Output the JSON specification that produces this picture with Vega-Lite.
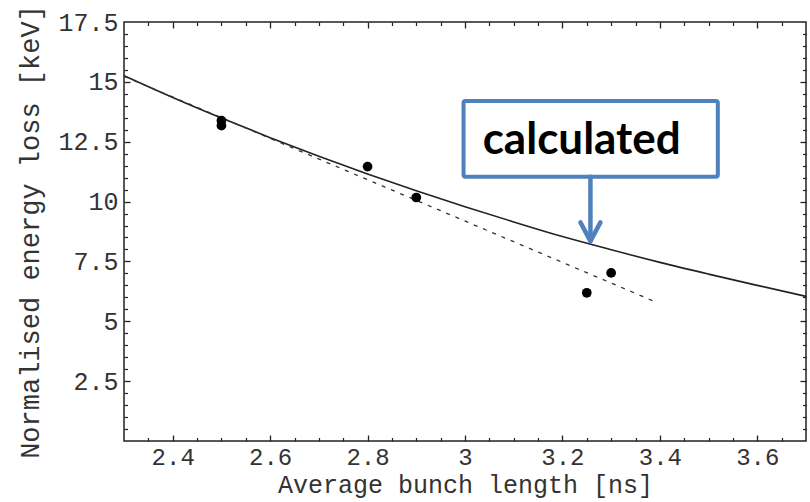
{
  "$schema": "https://vega.github.io/schema/vega-lite/v6.json",
  "width": 682,
  "height": 419,
  "autosize": {"type": "none"},
  "padding": {"left": 124, "top": 22, "right": 4, "bottom": 61},
  "background": "white",
  "config": {
    "view": {"stroke": "#222", "strokeWidth": 1.5},
    "axis": {"grid": false, "labelFont": "Liberation Mono", "titleFont": "Liberation Mono", "labelColor": "#333", "titleColor": "#333", "labelFontSize": 25, "titleFontSize": 26, "titleFontWeight": "normal", "domain": false}
  },
  "datasets": {
    "calc": [
      {"x": 2.3, "y": 15.26}, {"x": 2.4, "y": 14.35}, {"x": 2.5, "y": 13.49}, {"x": 2.6, "y": 12.67},
      {"x": 2.7, "y": 11.89}, {"x": 2.8, "y": 11.15}, {"x": 2.9, "y": 10.45}, {"x": 3.0, "y": 9.78},
      {"x": 3.1, "y": 9.15}, {"x": 3.2, "y": 8.54}, {"x": 3.3, "y": 7.99}, {"x": 3.4, "y": 7.46},
      {"x": 3.5, "y": 6.97}, {"x": 3.6, "y": 6.5}, {"x": 3.7, "y": 6.04}
    ],
    "fit": [{"x": 2.3, "y": 15.23}, {"x": 3.39, "y": 5.82}],
    "meas": [
      {"x": 2.5, "y": 13.38}, {"x": 2.5, "y": 13.17}, {"x": 2.8, "y": 11.46},
      {"x": 2.9, "y": 10.17}, {"x": 3.25, "y": 6.19}, {"x": 3.3, "y": 7.02}
    ],
    "box": [{"x1": 2.997, "x2": 3.519, "y1": 11.04, "y2": 14.2}],
    "label": [{"x": 3.2396, "y": 11.97, "text": "calculated"}],
    "arrow": [
      {"x1": 3.2575, "y1": 11.04, "x2": 3.2575, "y2": 8.4},
      {"x1": 3.237, "y1": 9.13, "x2": 3.2575, "y2": 8.35},
      {"x1": 3.278, "y1": 9.13, "x2": 3.2575, "y2": 8.35}
    ]
  },
  "resolve": {"axis": {"x": "independent", "y": "independent"}},
  "layer": [
    {
      "data": {"name": "calc"},
      "mark": {"type": "line", "color": "#222", "strokeWidth": 1.6, "interpolate": "monotone"},
      "encoding": {
        "x": {"field": "x", "type": "quantitative", "scale": {"domain": [2.3, 3.7], "nice": false, "zero": false},
          "axis": {"orient": "bottom", "values": [2.4, 2.6, 2.8, 3, 3.2, 3.4, 3.6], "labelExpr": "'' + datum.value", "labelFontSize": 24, "ticks": false, "labelPadding": 4, "title": "Average bunch length [ns]", "titleFontSize": 25, "titlePadding": 3}},
        "y": {"field": "y", "type": "quantitative", "scale": {"domain": [0, 17.5], "nice": false, "zero": false},
          "axis": {"orient": "left", "values": [2.5, 5, 7.5, 10, 12.5, 15, 17.5], "labelExpr": "'' + datum.value", "ticks": false, "labelPadding": 6, "title": "Normalised energy loss [keV]", "titleFontSize": 27, "titlePadding": 13}}
      }
    },
    {
      "data": {"name": "fit"},
      "mark": {"type": "line", "color": "#333", "strokeWidth": 1.3, "strokeDash": [4, 6]},
      "encoding": {
        "x": {"field": "x", "type": "quantitative", "axis": {"orient": "bottom", "values": [2.4, 2.6, 2.8, 3, 3.2, 3.4, 3.6], "labels": false, "ticks": true, "tickSize": -6, "tickColor": "#222", "tickWidth": 1.3, "title": null}},
        "y": {"field": "y", "type": "quantitative", "axis": {"orient": "left", "values": [2.5, 5, 7.5, 10, 12.5, 15], "labels": false, "ticks": true, "tickSize": -6, "tickColor": "#222", "tickWidth": 1.3, "title": null}}
      }
    },
    {
      "data": {"name": "meas"},
      "mark": {"type": "circle", "color": "#000", "opacity": 1, "size": 95},
      "encoding": {
        "x": {"field": "x", "type": "quantitative", "axis": {"orient": "bottom", "values": [2.35, 2.45, 2.5, 2.55, 2.65, 2.7, 2.75, 2.85, 2.9, 2.95, 3.05, 3.1, 3.15, 3.25, 3.3, 3.35, 3.45, 3.5, 3.55, 3.65], "labels": false, "ticks": true, "tickSize": -3.5, "tickColor": "#222", "tickWidth": 1.2, "title": null}},
        "y": {"field": "y", "type": "quantitative", "axis": {"orient": "left", "values": [0.5, 1, 1.5, 2, 3, 3.5, 4, 4.5, 5.5, 6, 6.5, 7, 8, 8.5, 9, 9.5, 10.5, 11, 11.5, 12, 13, 13.5, 14, 14.5, 15.5, 16, 16.5, 17], "labels": false, "ticks": true, "tickSize": -3.5, "tickColor": "#222", "tickWidth": 1.2, "title": null}}
      }
    },
    {
      "data": {"name": "box"},
      "mark": {"type": "rect", "fill": "white", "stroke": "#4F81BD", "strokeWidth": 4, "cornerRadius": 2},
      "encoding": {
        "x": {"field": "x1", "type": "quantitative", "axis": {"orient": "top", "values": [2.4, 2.6, 2.8, 3, 3.2, 3.4, 3.6], "labels": false, "ticks": true, "tickSize": -6, "tickColor": "#222", "tickWidth": 1.3, "title": null}},
        "x2": {"field": "x2"},
        "y": {"field": "y1", "type": "quantitative", "axis": {"orient": "right", "values": [2.5, 5, 7.5, 10, 12.5, 15], "labels": false, "ticks": true, "tickSize": -6, "tickColor": "#222", "tickWidth": 1.3, "title": null}},
        "y2": {"field": "y2"}
      }
    },
    {
      "data": {"name": "label"},
      "mark": {"type": "text", "font": "Lato", "fontWeight": "bold", "fontSize": 44, "color": "#000", "align": "center", "baseline": "alphabetic"},
      "encoding": {
        "x": {"field": "x", "type": "quantitative", "axis": {"orient": "top", "values": [2.35, 2.45, 2.5, 2.55, 2.65, 2.7, 2.75, 2.85, 2.9, 2.95, 3.05, 3.1, 3.15, 3.25, 3.3, 3.35, 3.45, 3.5, 3.55, 3.65], "labels": false, "ticks": true, "tickSize": -3.5, "tickColor": "#222", "tickWidth": 1.2, "title": null}},
        "y": {"field": "y", "type": "quantitative", "axis": {"orient": "right", "values": [0.5, 1, 1.5, 2, 3, 3.5, 4, 4.5, 5.5, 6, 6.5, 7, 8, 8.5, 9, 9.5, 10.5, 11, 11.5, 12, 13, 13.5, 14, 14.5, 15.5, 16, 16.5, 17], "labels": false, "ticks": true, "tickSize": -3.5, "tickColor": "#222", "tickWidth": 1.2, "title": null}},
        "text": {"field": "text"}
      }
    },
    {
      "data": {"name": "arrow"},
      "mark": {"type": "rule", "color": "#4F81BD", "strokeWidth": 4.5, "strokeCap": "round"},
      "encoding": {
        "x": {"field": "x1", "type": "quantitative", "axis": null},
        "x2": {"field": "x2"},
        "y": {"field": "y1", "type": "quantitative", "axis": null},
        "y2": {"field": "y2"}
      }
    }
  ]
}
